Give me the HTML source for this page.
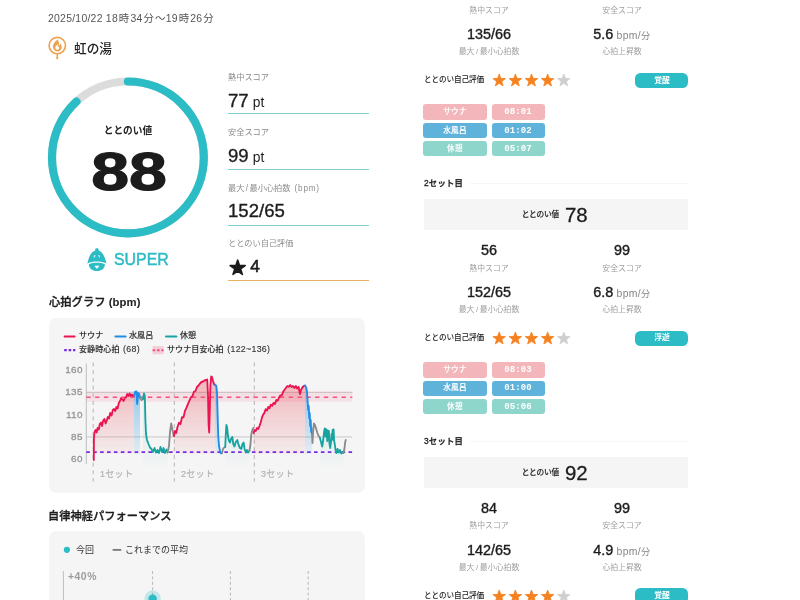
<!DOCTYPE html>
<html lang="ja"><head><meta charset="utf-8"><title>サウナ結果</title>
<style>
html,body{margin:0;padding:0;background:#fff;}
body{width:800px;height:600px;position:relative;overflow:hidden;font-family:'Liberation Sans', 'Noto Sans CJK JP', sans-serif;}
.t{position:absolute;white-space:nowrap;line-height:1;will-change:transform;}
.b{position:absolute;}
.pt{font-size:13.8px;letter-spacing:0.2px;-webkit-text-stroke:0;}
.st{font-size:18.4px;-webkit-text-stroke:0;}
.u{font-size:10.4px;color:#858585;-webkit-text-stroke:0;letter-spacing:0.35px;}
.u i{font-style:normal;font-size:9.2px;}
</style></head><body>
<div class="t" style="left:48px;top:18.6px;font-size:10.4px;color:#555;font-weight:400;transform:translate(0,-50%);letter-spacing:0.27px;">2025/10/22 18<span style="margin:0 0.9px">時</span>34<span style="margin:0 0.9px">分</span>～19<span style="margin:0 0.9px">時</span>26<span style="margin:0 0.9px">分</span></div>
<svg class="b" style="left:46px;top:35px" width="24" height="26" viewBox="0 0 24 26">
<circle cx="11.3" cy="10.6" r="8.2" fill="#fff" stroke="#efa04c" stroke-width="1.6"/>
<path d="M11.3 18.8 L11.3 22.4" stroke="#efa04c" stroke-width="1.5" stroke-linecap="round"/>
<circle cx="11.3" cy="23.2" r="1.1" fill="#efa04c"/>
<path d="M11.7 4.6 C9.2 6.6 6.9 8.8 6.9 11.8 C6.9 14.5 8.9 16.4 11.3 16.4 C13.8 16.4 15.7 14.6 15.7 12.2 C15.7 10.7 15 9.5 14.2 8.6 C14 9.8 13.5 10.5 12.8 10.9 C13.2 8.7 12.8 6.4 11.7 4.6 Z" fill="#efa04c"/>
<path d="M11.4 9.6 C10.2 10.6 9.3 11.6 9.3 12.8 C9.3 14 10.2 14.8 11.3 14.8 C12.4 14.8 13.3 14 13.3 12.9 C13.3 12.3 13 11.8 12.7 11.4 C12.5 11.9 12.2 12.2 11.9 12.3 C12 11.3 11.9 10.4 11.4 9.6 Z" fill="#fff"/>
</svg>
<div class="t" style="left:73.6px;top:48.7px;font-size:12.7px;color:#222;font-weight:500;transform:translate(0,-50%);">虹の湯</div>
<svg class="b" style="left:0;top:0" width="400" height="300" viewBox="0 0 400 300">
<circle cx="127.9" cy="157.4" r="75.9" fill="none" stroke="#dcdcdc" stroke-width="8.2"/>
<circle cx="127.9" cy="157.4" r="75.9" fill="none" stroke="#2bbcc6" stroke-width="8.2" stroke-linecap="round"
 stroke-dasharray="419.67 476.89" transform="rotate(-90 127.9 157.4)"/>
</svg>
<div class="t" style="left:128.3px;top:130.6px;font-size:9.7px;color:#222;font-weight:700;transform:translate(-50%,-50%);">ととのい値</div>
<div class="t" style="left:128.8px;top:170.8px;font-size:54px;color:#1c1c1c;font-weight:700;transform:translate(-50%,-50%);transform:translate(-50%,-50%) scaleX(1.26);-webkit-text-stroke:1.2px #1c1c1c;letter-spacing:0px;">88</div>
<svg class="b" style="left:86px;top:247px" width="22" height="25" viewBox="0 0 22 25">
<g fill="#2bbcc6">
<rect x="9.2" y="1.2" width="3.4" height="3.4" rx="1.3"/>
<path d="M10.9 3.2 C14.4 3.2 17.6 6.8 19 11.2 C19.8 13.6 20.2 15.2 20.4 16.6 C17.4 15.2 14.4 14.6 10.9 14.6 C7.4 14.6 4.4 15.2 1.4 16.6 C1.6 15.2 2 13.6 2.8 11.2 C4.2 6.8 7.4 3.2 10.9 3.2 Z"/>
<path d="M2.9 17.2 C5.4 16.2 8 15.8 10.9 15.8 C13.8 15.8 16.4 16.2 18.9 17.2 C19 21.4 15.4 24 10.9 24 C6.4 24 2.8 21.4 2.9 17.2 Z"/>
</g>
<path d="M7.6 9.2 C8.2 8 9 7.6 9.6 8.2 C9.4 9.4 8.8 10.4 7.8 10.8 Z" fill="#fff" fill-opacity="0.75"/>
<path d="M14.2 9.2 C13.6 8 12.8 7.6 12.2 8.2 C12.4 9.4 13 10.4 14 10.8 Z" fill="#fff" fill-opacity="0.75"/>
<path d="M8.8 19 L13 19 L10.9 21.6 Z" fill="#fff" stroke="#fff" stroke-width="0.6" stroke-linejoin="round"/>
</svg>
<div class="t" style="left:113.9px;top:259.4px;font-size:15.9px;color:#2bbcc6;font-weight:400;transform:translate(0,-50%);transform:translate(0,-50%) scaleY(1.09);-webkit-text-stroke:0.45px #2bbcc6;">SUPER</div>
<div class="t" style="left:228px;top:77.8px;font-size:8.2px;color:#8c8c8c;font-weight:400;transform:translate(0,-50%);">熱中スコア</div>
<div class="t" style="left:228px;top:100.6px;font-size:18.6px;color:#1c1c1c;font-weight:400;transform:translate(0,-50%);-webkit-text-stroke:0.35px #1c1c1c;">77<span class="pt"> pt</span></div>
<div class="b" style="left:228px;top:113.2px;width:141.00px;height:1.20px;background:#7fd0d4;border-radius:0px;"></div>
<div class="t" style="left:228px;top:133.2px;font-size:8.2px;color:#8c8c8c;font-weight:400;transform:translate(0,-50%);">安全スコア</div>
<div class="t" style="left:228px;top:155.6px;font-size:18.6px;color:#1c1c1c;font-weight:400;transform:translate(0,-50%);-webkit-text-stroke:0.35px #1c1c1c;">99<span class="pt"> pt</span></div>
<div class="b" style="left:228px;top:168.70000000000002px;width:141.00px;height:1.20px;background:#7fd0d4;border-radius:0px;"></div>
<div class="t" style="left:228px;top:188.6px;font-size:8.2px;color:#8c8c8c;font-weight:400;transform:translate(0,-50%);">最大<span style="margin:0 1.4px">/</span>最小心拍数<span style="letter-spacing:0.75px;margin-left:1.2px"> (bpm)</span></div>
<div class="t" style="left:228px;top:211.0px;font-size:18.6px;color:#1c1c1c;font-weight:400;transform:translate(0,-50%);-webkit-text-stroke:0.35px #1c1c1c;">152/65</div>
<div class="b" style="left:228px;top:224.6px;width:141.00px;height:1.20px;background:#7fd0d4;border-radius:0px;"></div>
<div class="t" style="left:228px;top:243.8px;font-size:8.2px;color:#8c8c8c;font-weight:400;transform:translate(0,-50%);">ととのい自己評価</div>
<div class="t" style="left:228px;top:266.6px;font-size:17.2px;color:#1c1c1c;font-weight:400;transform:translate(0,-50%);-webkit-text-stroke:0.6px #1c1c1c;"><span style="margin-left:22.2px">4</span></div>
<div class="b" style="left:228px;top:279.59999999999997px;width:141.00px;height:1.20px;background:#ebb265;border-radius:0px;"></div>
<svg class="b" style="left:226px;top:254px" width="24" height="24" viewBox="0 0 24 24"><text x="11.7" y="18.6" text-anchor="middle" font-size="16.4" fill="#1c1c1c" stroke="#1c1c1c" stroke-width="1.5" stroke-linejoin="round" style="font-family:'Liberation Sans','Noto Sans CJK JP',sans-serif">★</text></svg>
<div class="t" style="left:48.5px;top:303.2px;font-size:11.3px;color:#1c1c1c;font-weight:500;transform:translate(0,-50%);-webkit-text-stroke:0.32px #1c1c1c;">心拍グラフ<span style="letter-spacing:0.1px;font-weight:700;-webkit-text-stroke:0"> (bpm)</span></div>
<div class="b" style="left:49px;top:318px;width:316.00px;height:174.50px;background:#f5f5f5;border-radius:7px;"></div>
<svg class="b" style="left:0;top:0" width="400" height="600" viewBox="0 0 400 600">
<defs>
<linearGradient id="gs" gradientUnits="userSpaceOnUse" x1="0" y1="376" x2="0" y2="456"><stop offset="0" stop-color="#e8404f" stop-opacity="0.36"/><stop offset="1" stop-color="#e8404f" stop-opacity="0.04"/></linearGradient>
<linearGradient id="gw" gradientUnits="userSpaceOnUse" x1="0" y1="385" x2="0" y2="456"><stop offset="0" stop-color="#3aa0e0" stop-opacity="0.55"/><stop offset="1" stop-color="#3aa0e0" stop-opacity="0.08"/></linearGradient>
<linearGradient id="gr" gradientUnits="userSpaceOnUse" x1="0" y1="420" x2="0" y2="470"><stop offset="0" stop-color="#17a3a0" stop-opacity="0.10"/><stop offset="1" stop-color="#17a3a0" stop-opacity="0"/></linearGradient>
</defs>
<rect x="86.3" y="391.3" width="266" height="10.4" fill="#f6a6b8" fill-opacity="0.26"/>
<line x1="86.3" x2="352.3" y1="392.45" y2="392.45" stroke="#b4b4b4" stroke-width="0.7"/>
<line x1="86.3" x2="352.3" y1="436.95" y2="436.95" stroke="#b4b4b4" stroke-width="0.7"/>
<line x1="93.2" x2="93.2" y1="362.5" y2="481.5" stroke="#a8a8a8" stroke-width="0.85" stroke-dasharray="4 3.7"/>
<line x1="174.3" x2="174.3" y1="362.5" y2="481.5" stroke="#a8a8a8" stroke-width="0.85" stroke-dasharray="4 3.7"/>
<line x1="254.3" x2="254.3" y1="362.5" y2="481.5" stroke="#a8a8a8" stroke-width="0.85" stroke-dasharray="4 3.7"/>
<line x1="86.3" x2="86.3" y1="363.5" y2="464" stroke="#b0b0b0" stroke-width="0.8"/>
<path d="M93.8 460.0 L93.9 438.0 L94.6 432.0 L95.6 430.0 L96.6 432.5 L97.6 428.0 L98.8 429.5 L99.8 424.0 L101.0 422.5 L102.0 426.0 L103.2 420.5 L104.4 419.0 L105.6 423.5 L106.6 421.0 L107.8 417.0 L109.0 418.5 L110.2 413.0 L111.6 415.5 L112.8 410.0 L114.0 409.0 L115.2 411.0 L116.4 407.0 L117.6 408.5 L118.8 403.0 L120.0 401.0 L121.2 398.0 L122.4 399.5 L123.6 401.0 L124.8 398.0 L126.0 397.5 L127.2 394.0 L128.4 396.0 L129.6 393.5 L130.8 396.0 L132.0 394.5 L133.0 396.0 L134.0 395.5 L134.0 454.0 L93.8 454.0 Z" fill="url(#gs)"/>
<path d="M134.0 396.0 L135.0 392.0 L136.5 391.5 L137.2 404.0 L138.0 393.0 L139.2 394.0 L140.0 398.0 L140.0 454.0 L134.0 454.0 Z" fill="url(#gw)"/>
<path d="M143.0 399.0 L144.0 393.5 L144.8 396.0 L145.4 420.0 L146.0 434.0 L147.0 440.0 L148.5 444.0 L150.0 447.5 L151.5 449.0 L153.0 452.0 L154.5 448.0 L156.0 452.5 L157.5 450.0 L159.0 453.0 L160.5 447.0 L162.0 452.0 L163.5 448.0 L165.0 453.0 L166.5 449.5 L167.6 452.5 L167.6 470 L143.0 470 Z" fill="url(#gr)"/>
<path d="M174.0 436.0 L175.0 431.0 L176.2 433.0 L177.5 427.0 L179.0 422.6 L180.5 424.0 L182.0 417.2 L183.5 417.4 L185.0 410.8 L186.5 407.6 L188.0 403.8 L189.5 400.4 L191.0 397.2 L192.5 396.0 L194.0 391.6 L195.5 391.0 L197.0 387.0 L198.5 385.5 L200.0 383.5 L201.5 382.0 L203.0 381.5 L204.5 380.5 L206.0 380.0 L207.2 379.5 L208.0 395.0 L208.6 425.0 L209.2 432.5 L209.8 410.0 L210.4 385.0 L211.2 376.5 L212.0 377.0 L213.0 381.0 L214.0 384.0 L215.0 385.0 L215.0 454.0 L174.0 454.0 Z" fill="url(#gs)"/>
<path d="M215.0 385.0 L216.2 385.5 L217.0 392.0 L217.6 415.0 L218.2 435.0 L219.0 446.0 L220.0 451.0 L221.0 453.5 L222.0 453.0 L222.0 454.0 L215.0 454.0 Z" fill="url(#gw)"/>
<path d="M225.2 447.0 L225.8 435.0 L226.4 425.0 L227.2 428.0 L228.0 436.0 L229.0 441.0 L230.0 442.5 L231.0 439.0 L232.3 437.0 L233.3 444.0 L234.5 446.5 L235.8 442.0 L237.3 440.0 L238.6 445.0 L240.0 448.0 L241.3 449.0 L242.5 444.0 L243.6 442.5 L244.6 449.0 L245.8 452.5 L247.0 450.0 L248.2 452.5 L249.4 451.0 L249.4 470 L225.2 470 Z" fill="url(#gr)"/>
<path d="M253.6 433.0 L254.6 430.0 L255.8 431.0 L257.0 428.0 L258.3 429.0 L259.6 425.6 L260.8 422.2 L262.0 417.4 L263.2 414.6 L264.4 412.9 L265.6 409.3 L267.0 410.6 L268.2 407.0 L269.5 408.3 L270.8 404.6 L272.2 405.8 L273.5 402.9 L275.0 404.0 L276.3 400.0 L277.6 400.8 L279.0 397.6 L280.4 395.3 L281.8 395.5 L283.2 391.6 L284.6 389.7 L286.0 387.8 L287.4 386.0 L288.8 386.8 L290.2 385.1 L291.6 387.0 L293.0 386.0 L294.4 388.0 L295.8 386.0 L297.2 388.5 L298.6 387.0 L300.0 394.0 L301.0 390.0 L302.4 387.5 L303.8 386.0 L305.0 385.5 L305.0 454.0 L253.6 454.0 Z" fill="url(#gs)"/>
<path d="M305.0 385.5 L306.2 387.5 L307.0 392.0 L307.6 401.0 L308.2 410.0 L308.7 406.0 L309.2 418.0 L309.7 413.0 L310.2 426.0 L310.7 420.0 L311.2 432.0 L311.6 428.0 L312.0 434.0 L312.0 454.0 L305.0 454.0 Z" fill="url(#gw)"/>
<path d="M320.0 438.0 L321.0 442.0 L322.2 446.5 L323.2 440.0 L324.2 431.0 L324.8 428.5 L325.3 436.0 L325.8 429.0 L326.3 437.0 L326.8 430.0 L327.3 441.0 L327.8 430.5 L328.4 436.0 L328.9 431.0 L329.4 443.0 L330.2 448.0 L331.0 442.0 L331.6 434.0 L332.1 440.0 L332.6 430.0 L333.1 438.0 L333.6 429.5 L334.1 441.0 L334.6 443.0 L335.4 449.0 L336.4 453.0 L337.6 449.0 L338.8 452.5 L340.0 450.0 L341.2 453.5 L342.4 452.0 L343.4 453.0 L343.4 470 L320.0 470 Z" fill="url(#gr)"/>
<line x1="86.3" x2="352.3" y1="397.26" y2="397.26" stroke="#f0547f" stroke-width="1.45" stroke-dasharray="4.4 4.4"/>
<line x1="86.3" x2="352.3" y1="452.08" y2="452.08" stroke="#7a2be2" stroke-width="1.7" stroke-dasharray="3.6 3.3"/>
<path d="M93.8 460.0 L93.9 438.0 L94.6 432.0 L95.6 430.0 L96.6 432.5 L97.6 428.0 L98.8 429.5 L99.8 424.0 L101.0 422.5 L102.0 426.0 L103.2 420.5 L104.4 419.0 L105.6 423.5 L106.6 421.0 L107.8 417.0 L109.0 418.5 L110.2 413.0 L111.6 415.5 L112.8 410.0 L114.0 409.0 L115.2 411.0 L116.4 407.0 L117.6 408.5 L118.8 403.0 L120.0 401.0 L121.2 398.0 L122.4 399.5 L123.6 401.0 L124.8 398.0 L126.0 397.5 L127.2 394.0 L128.4 396.0 L129.6 393.5 L130.8 396.0 L132.0 394.5 L133.0 396.0 L134.0 395.5" fill="none" stroke="#ec1450" stroke-width="1.85" stroke-linejoin="round" stroke-linecap="round"/>
<path d="M134.0 396.0 L135.0 392.0 L136.5 391.5 L137.2 404.0 L138.0 393.0 L139.2 394.0 L140.0 398.0" fill="none" stroke="#1e8de6" stroke-width="1.85" stroke-linejoin="round" stroke-linecap="round"/>
<path d="M140.0 398.0 L141.5 400.0 L143.0 399.0" fill="none" stroke="#8a8a8a" stroke-width="1.85" stroke-linejoin="round" stroke-linecap="round"/>
<path d="M143.0 399.0 L144.0 393.5 L144.8 396.0 L145.4 420.0 L146.0 434.0 L147.0 440.0 L148.5 444.0 L150.0 447.5 L151.5 449.0 L153.0 452.0 L154.5 448.0 L156.0 452.5 L157.5 450.0 L159.0 453.0 L160.5 447.0 L162.0 452.0 L163.5 448.0 L165.0 453.0 L166.5 449.5 L167.6 452.5" fill="none" stroke="#17a3a0" stroke-width="1.85" stroke-linejoin="round" stroke-linecap="round"/>
<path d="M167.6 452.5 L169.0 446.0 L170.0 432.0 L171.2 423.5 L172.5 430.0 L173.8 436.0" fill="none" stroke="#8a8a8a" stroke-width="1.85" stroke-linejoin="round" stroke-linecap="round"/>
<path d="M174.0 436.0 L175.0 431.0 L176.2 433.0 L177.5 427.0 L179.0 422.6 L180.5 424.0 L182.0 417.2 L183.5 417.4 L185.0 410.8 L186.5 407.6 L188.0 403.8 L189.5 400.4 L191.0 397.2 L192.5 396.0 L194.0 391.6 L195.5 391.0 L197.0 387.0 L198.5 385.5 L200.0 383.5 L201.5 382.0 L203.0 381.5 L204.5 380.5 L206.0 380.0 L207.2 379.5 L208.0 395.0 L208.6 425.0 L209.2 432.5 L209.8 410.0 L210.4 385.0 L211.2 376.5 L212.0 377.0 L213.0 381.0 L214.0 384.0 L215.0 385.0" fill="none" stroke="#ec1450" stroke-width="1.85" stroke-linejoin="round" stroke-linecap="round"/>
<path d="M215.0 385.0 L216.2 385.5 L217.0 392.0 L217.6 415.0 L218.2 435.0 L219.0 446.0 L220.0 451.0 L221.0 453.5 L222.0 453.0" fill="none" stroke="#1e8de6" stroke-width="1.85" stroke-linejoin="round" stroke-linecap="round"/>
<path d="M222.0 453.0 L223.0 449.0 L224.2 447.5 L225.2 447.0" fill="none" stroke="#8a8a8a" stroke-width="1.85" stroke-linejoin="round" stroke-linecap="round"/>
<path d="M225.2 447.0 L225.8 435.0 L226.4 425.0 L227.2 428.0 L228.0 436.0 L229.0 441.0 L230.0 442.5 L231.0 439.0 L232.3 437.0 L233.3 444.0 L234.5 446.5 L235.8 442.0 L237.3 440.0 L238.6 445.0 L240.0 448.0 L241.3 449.0 L242.5 444.0 L243.6 442.5 L244.6 449.0 L245.8 452.5 L247.0 450.0 L248.2 452.5 L249.4 451.0" fill="none" stroke="#17a3a0" stroke-width="1.85" stroke-linejoin="round" stroke-linecap="round"/>
<path d="M249.4 451.0 L250.4 445.0 L251.2 435.0 L252.2 430.5 L253.4 428.0" fill="none" stroke="#8a8a8a" stroke-width="1.85" stroke-linejoin="round" stroke-linecap="round"/>
<path d="M253.6 433.0 L254.6 430.0 L255.8 431.0 L257.0 428.0 L258.3 429.0 L259.6 425.6 L260.8 422.2 L262.0 417.4 L263.2 414.6 L264.4 412.9 L265.6 409.3 L267.0 410.6 L268.2 407.0 L269.5 408.3 L270.8 404.6 L272.2 405.8 L273.5 402.9 L275.0 404.0 L276.3 400.0 L277.6 400.8 L279.0 397.6 L280.4 395.3 L281.8 395.5 L283.2 391.6 L284.6 389.7 L286.0 387.8 L287.4 386.0 L288.8 386.8 L290.2 385.1 L291.6 387.0 L293.0 386.0 L294.4 388.0 L295.8 386.0 L297.2 388.5 L298.6 387.0 L300.0 394.0 L301.0 390.0 L302.4 387.5 L303.8 386.0 L305.0 385.5" fill="none" stroke="#ec1450" stroke-width="1.85" stroke-linejoin="round" stroke-linecap="round"/>
<path d="M305.0 385.5 L306.2 387.5 L307.0 392.0 L307.6 401.0 L308.2 410.0 L308.7 406.0 L309.2 418.0 L309.7 413.0 L310.2 426.0 L310.7 420.0 L311.2 432.0 L311.6 428.0 L312.0 434.0" fill="none" stroke="#1e8de6" stroke-width="1.85" stroke-linejoin="round" stroke-linecap="round"/>
<path d="M312.0 434.0 L312.5 443.0 L313.1 432.0 L313.9 423.5 L315.0 425.0 L316.2 429.0 L317.4 433.0 L318.6 436.0 L320.0 438.0" fill="none" stroke="#8a8a8a" stroke-width="1.85" stroke-linejoin="round" stroke-linecap="round"/>
<path d="M320.0 438.0 L321.0 442.0 L322.2 446.5 L323.2 440.0 L324.2 431.0 L324.8 428.5 L325.3 436.0 L325.8 429.0 L326.3 437.0 L326.8 430.0 L327.3 441.0 L327.8 430.5 L328.4 436.0 L328.9 431.0 L329.4 443.0 L330.2 448.0 L331.0 442.0 L331.6 434.0 L332.1 440.0 L332.6 430.0 L333.1 438.0 L333.6 429.5 L334.1 441.0 L334.6 443.0 L335.4 449.0 L336.4 453.0 L337.6 449.0 L338.8 452.5 L340.0 450.0 L341.2 453.5 L342.4 452.0 L343.4 453.0" fill="none" stroke="#17a3a0" stroke-width="1.85" stroke-linejoin="round" stroke-linecap="round"/>
<path d="M343.4 453.0 L344.4 449.0 L345.2 442.0 L345.8 440.0" fill="none" stroke="#8a8a8a" stroke-width="1.85" stroke-linejoin="round" stroke-linecap="round"/>
<line x1="64.6" x2="74.6" y1="336.4" y2="336.4" stroke="#ec1450" stroke-width="2" stroke-linecap="round"/>
<line x1="115.4" x2="125.6" y1="336.4" y2="336.4" stroke="#1e8de6" stroke-width="2" stroke-linecap="round"/>
<line x1="166" x2="176.4" y1="336.4" y2="336.4" stroke="#17a3a0" stroke-width="2" stroke-linecap="round"/>
<line x1="64.2" x2="75.4" y1="350.2" y2="350.2" stroke="#7a2be2" stroke-width="2.2" stroke-dasharray="2.6 1.8"/>
<rect x="152.6" y="346.2" width="11" height="8" fill="#f6a6b8" fill-opacity="0.5"/>
<line x1="152.6" x2="163.6" y1="350.2" y2="350.2" stroke="#f0547f" stroke-width="2" stroke-dasharray="2.6 1.8"/>
</svg>
<div class="t" style="left:78.6px;top:336.4px;font-size:8.1px;color:#333;font-weight:500;transform:translate(0,-50%);-webkit-text-stroke:0.12px #333;">サウナ</div>
<div class="t" style="left:128.8px;top:336.4px;font-size:8.1px;color:#333;font-weight:500;transform:translate(0,-50%);-webkit-text-stroke:0.12px #333;">水風呂</div>
<div class="t" style="left:180.4px;top:336.4px;font-size:8.1px;color:#333;font-weight:500;transform:translate(0,-50%);-webkit-text-stroke:0.12px #333;">休憩</div>
<div class="t" style="left:78.6px;top:350.2px;font-size:8.1px;color:#333;font-weight:500;transform:translate(0,-50%);-webkit-text-stroke:0.12px #333;">安静時心拍<span style="font-size:8.8px;letter-spacing:0.3px;margin-left:0.8px"> (68)</span></div>
<div class="t" style="left:167.4px;top:350.2px;font-size:8.1px;color:#333;font-weight:500;transform:translate(0,-50%);-webkit-text-stroke:0.12px #333;">サウナ目安心拍<span style="font-size:8.8px;letter-spacing:0.3px;margin-left:0.8px"> (122~136)</span></div>
<div class="t" style="left:82.8px;top:370.0px;font-size:9.9px;color:#949494;font-weight:400;transform:translate(-100%,-50%);-webkit-text-stroke:0.32px #949494;letter-spacing:0.45px;">160</div>
<div class="t" style="left:82.8px;top:392.25px;font-size:9.9px;color:#949494;font-weight:400;transform:translate(-100%,-50%);-webkit-text-stroke:0.32px #949494;letter-spacing:0.45px;">135</div>
<div class="t" style="left:82.8px;top:414.5px;font-size:9.9px;color:#949494;font-weight:400;transform:translate(-100%,-50%);-webkit-text-stroke:0.32px #949494;letter-spacing:0.45px;">110</div>
<div class="t" style="left:82.8px;top:436.75px;font-size:9.9px;color:#949494;font-weight:400;transform:translate(-100%,-50%);-webkit-text-stroke:0.32px #949494;letter-spacing:0.45px;">85</div>
<div class="t" style="left:82.8px;top:459.0px;font-size:9.9px;color:#949494;font-weight:400;transform:translate(-100%,-50%);-webkit-text-stroke:0.32px #949494;letter-spacing:0.45px;">60</div>
<div class="t" style="left:100px;top:474.2px;font-size:9.0px;color:#b2b2b2;font-weight:400;transform:translate(0,-50%);-webkit-text-stroke:0.2px #b2b2b2;letter-spacing:0.3px;">1セット</div>
<div class="t" style="left:181px;top:474.2px;font-size:9.0px;color:#b2b2b2;font-weight:400;transform:translate(0,-50%);-webkit-text-stroke:0.2px #b2b2b2;letter-spacing:0.3px;">2セット</div>
<div class="t" style="left:261px;top:474.2px;font-size:9.0px;color:#b2b2b2;font-weight:400;transform:translate(0,-50%);-webkit-text-stroke:0.2px #b2b2b2;letter-spacing:0.3px;">3セット</div>
<div class="t" style="left:48.3px;top:517.0px;font-size:11.25px;color:#1c1c1c;font-weight:500;transform:translate(0,-50%);-webkit-text-stroke:0.32px #1c1c1c;">自律神経パフォーマンス</div>
<div class="b" style="left:49px;top:531.4px;width:316.00px;height:88.60px;background:#f5f5f5;border-radius:7px;"></div>
<svg class="b" style="left:0;top:530px" width="400" height="70" viewBox="0 530 400 70">
<circle cx="66.9" cy="549.8" r="3.1" fill="#2bbcc6"/>
<line x1="112.6" x2="121.2" y1="549.9" y2="549.9" stroke="#7c7c7c" stroke-width="1.9"/>
<line x1="63.4" x2="63.4" y1="571" y2="600" stroke="#b0b0b0" stroke-width="0.8"/>
<line x1="152.6" x2="152.6" y1="571" y2="600" stroke="#a8a8a8" stroke-width="0.8" stroke-dasharray="3 2.4"/>
<line x1="230.4" x2="230.4" y1="571" y2="600" stroke="#a8a8a8" stroke-width="0.8" stroke-dasharray="3 2.4"/>
<line x1="308.2" x2="308.2" y1="571" y2="600" stroke="#a8a8a8" stroke-width="0.8" stroke-dasharray="3 2.4"/>
<circle cx="152.6" cy="598.6" r="8.2" fill="#2bbcc6" fill-opacity="0.25"/>
<circle cx="152.6" cy="598.6" r="4.2" fill="#2bbcc6"/>
</svg>
<div class="t" style="left:76.4px;top:549.8px;font-size:9.0px;color:#333;font-weight:400;transform:translate(0,-50%);">今回</div>
<div class="t" style="left:124.8px;top:549.8px;font-size:9.0px;color:#333;font-weight:400;transform:translate(0,-50%);">これまでの平均</div>
<div class="t" style="left:67.8px;top:577.4px;font-size:10.4px;color:#9c9c9c;font-weight:700;transform:translate(0,-50%);letter-spacing:0.5px;">+40%</div>
<div class="t" style="left:423.6px;top:-74.5px;font-size:8.4px;color:#222;font-weight:500;transform:translate(0,-50%);letter-spacing:0.2px;-webkit-text-stroke:0.3px #222;">1セット目</div>
<div class="b" style="left:470px;top:-74.9px;width:218.00px;height:0.80px;background:#f7f7f7;border-radius:0px;"></div>
<div class="b" style="left:423.5px;top:-58.4px;width:264.50px;height:30.90px;background:#f5f5f5;border-radius:0px;"></div>
<div class="t" style="left:559.4px;top:-42.5px;font-size:7.7px;color:#222;font-weight:500;transform:translate(-100%,-50%);letter-spacing:-0.2px;-webkit-text-stroke:0.12px #222;">ととのい値</div>
<div class="t" style="left:565.0px;top:-43.1px;font-size:20.4px;color:#1c1c1c;font-weight:400;transform:translate(0,-50%);-webkit-text-stroke:0.3px #1c1c1c;">80</div>
<div class="t" style="left:489px;top:-7.599999999999994px;font-size:14.4px;color:#1c1c1c;font-weight:400;transform:translate(-50%,-50%);-webkit-text-stroke:0.38px #1c1c1c;">72</div>
<div class="t" style="left:621.5px;top:-7.599999999999994px;font-size:14.4px;color:#1c1c1c;font-weight:400;transform:translate(-50%,-50%);-webkit-text-stroke:0.38px #1c1c1c;">99</div>
<div class="t" style="left:489px;top:10.700000000000003px;font-size:7.9px;color:#a0a0a0;font-weight:400;transform:translate(-50%,-50%);">熱中スコア</div>
<div class="t" style="left:621.5px;top:10.700000000000003px;font-size:7.9px;color:#a0a0a0;font-weight:400;transform:translate(-50%,-50%);">安全スコア</div>
<div class="t" style="left:489px;top:34.400000000000006px;font-size:14.4px;color:#1c1c1c;font-weight:400;transform:translate(-50%,-50%);-webkit-text-stroke:0.38px #1c1c1c;">135/66</div>
<div class="t" style="left:621.5px;top:34.400000000000006px;font-size:14.4px;color:#1c1c1c;font-weight:400;transform:translate(-50%,-50%);"><span style="-webkit-text-stroke:0.38px #1c1c1c;">5.6</span><span class="u"> bpm/<i>分</i></span></div>
<div class="t" style="left:489px;top:52.400000000000006px;font-size:7.9px;color:#a0a0a0;font-weight:400;transform:translate(-50%,-50%);">最大<span style="margin:0 1.6px">/</span>最小心拍数</div>
<div class="t" style="left:621.5px;top:52.400000000000006px;font-size:7.9px;color:#a0a0a0;font-weight:400;transform:translate(-50%,-50%);">心拍上昇数</div>
<div class="t" style="left:423.6px;top:80.4px;font-size:7.6px;color:#222;font-weight:500;transform:translate(0,-50%);letter-spacing:-0.1px;">ととのい自己評価</div>
<svg class="b" style="left:490px;top:70.40px" width="84" height="20" viewBox="490 70.40 84 20"><polygon points="499.20,74.40 500.83,78.76 505.48,78.96 501.84,81.86 503.08,86.34 499.20,83.77 495.32,86.34 496.56,81.86 492.92,78.96 497.57,78.76" fill="#f5821f" stroke="#f5821f" stroke-width="0.8" stroke-linejoin="round"/><polygon points="515.35,74.40 516.98,78.76 521.63,78.96 517.99,81.86 519.23,86.34 515.35,83.77 511.47,86.34 512.71,81.86 509.07,78.96 513.72,78.76" fill="#f5821f" stroke="#f5821f" stroke-width="0.8" stroke-linejoin="round"/><polygon points="531.50,74.40 533.13,78.76 537.78,78.96 534.14,81.86 535.38,86.34 531.50,83.77 527.62,86.34 528.86,81.86 525.22,78.96 529.87,78.76" fill="#f5821f" stroke="#f5821f" stroke-width="0.8" stroke-linejoin="round"/><polygon points="547.65,74.40 549.28,78.76 553.93,78.96 550.29,81.86 551.53,86.34 547.65,83.77 543.77,86.34 545.01,81.86 541.37,78.96 546.02,78.76" fill="#f5821f" stroke="#f5821f" stroke-width="0.8" stroke-linejoin="round"/><polygon points="563.80,74.40 565.43,78.76 570.08,78.96 566.44,81.86 567.68,86.34 563.80,83.77 559.92,86.34 561.16,81.86 557.52,78.96 562.17,78.76" fill="#cfcfcf" stroke="#cfcfcf" stroke-width="0.8" stroke-linejoin="round"/></svg>
<div class="b" style="left:635px;top:72.80000000000001px;width:53.00px;height:15.40px;background:#2bbcc6;border-radius:5.5px;"></div>
<div class="t" style="left:661.5px;top:80.60000000000001px;font-size:7.8px;color:#fff;font-weight:700;transform:translate(-50%,-50%);">覚醒</div>
<div class="b" style="left:423px;top:104.4px;width:63.50px;height:15.40px;background:#f3b6ba;border-radius:3px;"></div>
<div class="b" style="left:491.8px;top:104.4px;width:53.20px;height:15.40px;background:#f3b6ba;border-radius:3px;"></div>
<div class="t" style="left:454.8px;top:112.2px;font-size:7.6px;color:#fff;font-weight:500;transform:translate(-50%,-50%);letter-spacing:0.3px;-webkit-text-stroke:0.15px #fff;">サウナ</div>
<div class="t" style="left:518.4px;top:112.30000000000001px;font-size:9.0px;color:#fff;font-weight:700;transform:translate(-50%,-50%);font-family:'Liberation Mono', 'Noto Sans CJK JP', monospace;letter-spacing:0.1px;">08:01</div>
<div class="b" style="left:423px;top:122.75px;width:63.50px;height:15.40px;background:#5fb2d9;border-radius:3px;"></div>
<div class="b" style="left:491.8px;top:122.75px;width:53.20px;height:15.40px;background:#5fb2d9;border-radius:3px;"></div>
<div class="t" style="left:454.8px;top:130.55px;font-size:7.6px;color:#fff;font-weight:500;transform:translate(-50%,-50%);letter-spacing:0.3px;-webkit-text-stroke:0.15px #fff;">水風呂</div>
<div class="t" style="left:518.4px;top:130.65px;font-size:9.0px;color:#fff;font-weight:700;transform:translate(-50%,-50%);font-family:'Liberation Mono', 'Noto Sans CJK JP', monospace;letter-spacing:0.1px;">01:02</div>
<div class="b" style="left:423px;top:141.10000000000002px;width:63.50px;height:15.40px;background:#8ed6cc;border-radius:3px;"></div>
<div class="b" style="left:491.8px;top:141.10000000000002px;width:53.20px;height:15.40px;background:#8ed6cc;border-radius:3px;"></div>
<div class="t" style="left:454.8px;top:148.90000000000003px;font-size:7.6px;color:#fff;font-weight:500;transform:translate(-50%,-50%);letter-spacing:0.3px;-webkit-text-stroke:0.15px #fff;">休憩</div>
<div class="t" style="left:518.4px;top:149.00000000000003px;font-size:9.0px;color:#fff;font-weight:700;transform:translate(-50%,-50%);font-family:'Liberation Mono', 'Noto Sans CJK JP', monospace;letter-spacing:0.1px;">05:07</div>
<div class="t" style="left:423.6px;top:183.3px;font-size:8.4px;color:#222;font-weight:500;transform:translate(0,-50%);letter-spacing:0.2px;-webkit-text-stroke:0.3px #222;">2セット目</div>
<div class="b" style="left:470px;top:182.9px;width:218.00px;height:0.80px;background:#f7f7f7;border-radius:0px;"></div>
<div class="b" style="left:423.5px;top:199.4px;width:264.50px;height:30.90px;background:#f5f5f5;border-radius:0px;"></div>
<div class="t" style="left:559.4px;top:215.3px;font-size:7.7px;color:#222;font-weight:500;transform:translate(-100%,-50%);letter-spacing:-0.2px;-webkit-text-stroke:0.12px #222;">ととのい値</div>
<div class="t" style="left:565.0px;top:214.70000000000002px;font-size:20.4px;color:#1c1c1c;font-weight:400;transform:translate(0,-50%);-webkit-text-stroke:0.3px #1c1c1c;">78</div>
<div class="t" style="left:489px;top:250.20000000000002px;font-size:14.4px;color:#1c1c1c;font-weight:400;transform:translate(-50%,-50%);-webkit-text-stroke:0.38px #1c1c1c;">56</div>
<div class="t" style="left:621.5px;top:250.20000000000002px;font-size:14.4px;color:#1c1c1c;font-weight:400;transform:translate(-50%,-50%);-webkit-text-stroke:0.38px #1c1c1c;">99</div>
<div class="t" style="left:489px;top:268.5px;font-size:7.9px;color:#a0a0a0;font-weight:400;transform:translate(-50%,-50%);">熱中スコア</div>
<div class="t" style="left:621.5px;top:268.5px;font-size:7.9px;color:#a0a0a0;font-weight:400;transform:translate(-50%,-50%);">安全スコア</div>
<div class="t" style="left:489px;top:292.20000000000005px;font-size:14.4px;color:#1c1c1c;font-weight:400;transform:translate(-50%,-50%);-webkit-text-stroke:0.38px #1c1c1c;">152/65</div>
<div class="t" style="left:621.5px;top:292.20000000000005px;font-size:14.4px;color:#1c1c1c;font-weight:400;transform:translate(-50%,-50%);"><span style="-webkit-text-stroke:0.38px #1c1c1c;">6.8</span><span class="u"> bpm/<i>分</i></span></div>
<div class="t" style="left:489px;top:310.20000000000005px;font-size:7.9px;color:#a0a0a0;font-weight:400;transform:translate(-50%,-50%);">最大<span style="margin:0 1.6px">/</span>最小心拍数</div>
<div class="t" style="left:621.5px;top:310.20000000000005px;font-size:7.9px;color:#a0a0a0;font-weight:400;transform:translate(-50%,-50%);">心拍上昇数</div>
<div class="t" style="left:423.6px;top:338.20000000000005px;font-size:7.6px;color:#222;font-weight:500;transform:translate(0,-50%);letter-spacing:-0.1px;">ととのい自己評価</div>
<svg class="b" style="left:490px;top:328.20px" width="84" height="20" viewBox="490 328.20 84 20"><polygon points="499.20,332.20 500.83,336.56 505.48,336.76 501.84,339.66 503.08,344.14 499.20,341.57 495.32,344.14 496.56,339.66 492.92,336.76 497.57,336.56" fill="#f5821f" stroke="#f5821f" stroke-width="0.8" stroke-linejoin="round"/><polygon points="515.35,332.20 516.98,336.56 521.63,336.76 517.99,339.66 519.23,344.14 515.35,341.57 511.47,344.14 512.71,339.66 509.07,336.76 513.72,336.56" fill="#f5821f" stroke="#f5821f" stroke-width="0.8" stroke-linejoin="round"/><polygon points="531.50,332.20 533.13,336.56 537.78,336.76 534.14,339.66 535.38,344.14 531.50,341.57 527.62,344.14 528.86,339.66 525.22,336.76 529.87,336.56" fill="#f5821f" stroke="#f5821f" stroke-width="0.8" stroke-linejoin="round"/><polygon points="547.65,332.20 549.28,336.56 553.93,336.76 550.29,339.66 551.53,344.14 547.65,341.57 543.77,344.14 545.01,339.66 541.37,336.76 546.02,336.56" fill="#f5821f" stroke="#f5821f" stroke-width="0.8" stroke-linejoin="round"/><polygon points="563.80,332.20 565.43,336.56 570.08,336.76 566.44,339.66 567.68,344.14 563.80,341.57 559.92,344.14 561.16,339.66 557.52,336.76 562.17,336.56" fill="#cfcfcf" stroke="#cfcfcf" stroke-width="0.8" stroke-linejoin="round"/></svg>
<div class="b" style="left:635px;top:330.6px;width:53.00px;height:15.40px;background:#2bbcc6;border-radius:5.5px;"></div>
<div class="t" style="left:661.5px;top:338.40000000000003px;font-size:7.8px;color:#fff;font-weight:700;transform:translate(-50%,-50%);">浮遊</div>
<div class="b" style="left:423px;top:362.20000000000005px;width:63.50px;height:15.40px;background:#f3b6ba;border-radius:3px;"></div>
<div class="b" style="left:491.8px;top:362.20000000000005px;width:53.20px;height:15.40px;background:#f3b6ba;border-radius:3px;"></div>
<div class="t" style="left:454.8px;top:370.00000000000006px;font-size:7.6px;color:#fff;font-weight:500;transform:translate(-50%,-50%);letter-spacing:0.3px;-webkit-text-stroke:0.15px #fff;">サウナ</div>
<div class="t" style="left:518.4px;top:370.1px;font-size:9.0px;color:#fff;font-weight:700;transform:translate(-50%,-50%);font-family:'Liberation Mono', 'Noto Sans CJK JP', monospace;letter-spacing:0.1px;">08:03</div>
<div class="b" style="left:423px;top:380.55000000000007px;width:63.50px;height:15.40px;background:#5fb2d9;border-radius:3px;"></div>
<div class="b" style="left:491.8px;top:380.55000000000007px;width:53.20px;height:15.40px;background:#5fb2d9;border-radius:3px;"></div>
<div class="t" style="left:454.8px;top:388.3500000000001px;font-size:7.6px;color:#fff;font-weight:500;transform:translate(-50%,-50%);letter-spacing:0.3px;-webkit-text-stroke:0.15px #fff;">水風呂</div>
<div class="t" style="left:518.4px;top:388.45000000000005px;font-size:9.0px;color:#fff;font-weight:700;transform:translate(-50%,-50%);font-family:'Liberation Mono', 'Noto Sans CJK JP', monospace;letter-spacing:0.1px;">01:00</div>
<div class="b" style="left:423px;top:398.90000000000003px;width:63.50px;height:15.40px;background:#8ed6cc;border-radius:3px;"></div>
<div class="b" style="left:491.8px;top:398.90000000000003px;width:53.20px;height:15.40px;background:#8ed6cc;border-radius:3px;"></div>
<div class="t" style="left:454.8px;top:406.70000000000005px;font-size:7.6px;color:#fff;font-weight:500;transform:translate(-50%,-50%);letter-spacing:0.3px;-webkit-text-stroke:0.15px #fff;">休憩</div>
<div class="t" style="left:518.4px;top:406.8px;font-size:9.0px;color:#fff;font-weight:700;transform:translate(-50%,-50%);font-family:'Liberation Mono', 'Noto Sans CJK JP', monospace;letter-spacing:0.1px;">05:06</div>
<div class="t" style="left:423.6px;top:441.1px;font-size:8.4px;color:#222;font-weight:500;transform:translate(0,-50%);letter-spacing:0.2px;-webkit-text-stroke:0.3px #222;">3セット目</div>
<div class="b" style="left:470px;top:440.70000000000005px;width:218.00px;height:0.80px;background:#f7f7f7;border-radius:0px;"></div>
<div class="b" style="left:423.5px;top:457.20000000000005px;width:264.50px;height:30.90px;background:#f5f5f5;border-radius:0px;"></div>
<div class="t" style="left:559.4px;top:473.1px;font-size:7.7px;color:#222;font-weight:500;transform:translate(-100%,-50%);letter-spacing:-0.2px;-webkit-text-stroke:0.12px #222;">ととのい値</div>
<div class="t" style="left:565.0px;top:472.5px;font-size:20.4px;color:#1c1c1c;font-weight:400;transform:translate(0,-50%);-webkit-text-stroke:0.3px #1c1c1c;">92</div>
<div class="t" style="left:489px;top:508.0px;font-size:14.4px;color:#1c1c1c;font-weight:400;transform:translate(-50%,-50%);-webkit-text-stroke:0.38px #1c1c1c;">84</div>
<div class="t" style="left:621.5px;top:508.0px;font-size:14.4px;color:#1c1c1c;font-weight:400;transform:translate(-50%,-50%);-webkit-text-stroke:0.38px #1c1c1c;">99</div>
<div class="t" style="left:489px;top:526.3000000000001px;font-size:7.9px;color:#a0a0a0;font-weight:400;transform:translate(-50%,-50%);">熱中スコア</div>
<div class="t" style="left:621.5px;top:526.3000000000001px;font-size:7.9px;color:#a0a0a0;font-weight:400;transform:translate(-50%,-50%);">安全スコア</div>
<div class="t" style="left:489px;top:550.0px;font-size:14.4px;color:#1c1c1c;font-weight:400;transform:translate(-50%,-50%);-webkit-text-stroke:0.38px #1c1c1c;">142/65</div>
<div class="t" style="left:621.5px;top:550.0px;font-size:14.4px;color:#1c1c1c;font-weight:400;transform:translate(-50%,-50%);"><span style="-webkit-text-stroke:0.38px #1c1c1c;">4.9</span><span class="u"> bpm/<i>分</i></span></div>
<div class="t" style="left:489px;top:568.0px;font-size:7.9px;color:#a0a0a0;font-weight:400;transform:translate(-50%,-50%);">最大<span style="margin:0 1.6px">/</span>最小心拍数</div>
<div class="t" style="left:621.5px;top:568.0px;font-size:7.9px;color:#a0a0a0;font-weight:400;transform:translate(-50%,-50%);">心拍上昇数</div>
<div class="t" style="left:423.6px;top:596.0px;font-size:7.6px;color:#222;font-weight:500;transform:translate(0,-50%);letter-spacing:-0.1px;">ととのい自己評価</div>
<svg class="b" style="left:490px;top:586.00px" width="84" height="20" viewBox="490 586.00 84 20"><polygon points="499.20,590.00 500.83,594.36 505.48,594.56 501.84,597.46 503.08,601.94 499.20,599.37 495.32,601.94 496.56,597.46 492.92,594.56 497.57,594.36" fill="#f5821f" stroke="#f5821f" stroke-width="0.8" stroke-linejoin="round"/><polygon points="515.35,590.00 516.98,594.36 521.63,594.56 517.99,597.46 519.23,601.94 515.35,599.37 511.47,601.94 512.71,597.46 509.07,594.56 513.72,594.36" fill="#f5821f" stroke="#f5821f" stroke-width="0.8" stroke-linejoin="round"/><polygon points="531.50,590.00 533.13,594.36 537.78,594.56 534.14,597.46 535.38,601.94 531.50,599.37 527.62,601.94 528.86,597.46 525.22,594.56 529.87,594.36" fill="#f5821f" stroke="#f5821f" stroke-width="0.8" stroke-linejoin="round"/><polygon points="547.65,590.00 549.28,594.36 553.93,594.56 550.29,597.46 551.53,601.94 547.65,599.37 543.77,601.94 545.01,597.46 541.37,594.56 546.02,594.36" fill="#f5821f" stroke="#f5821f" stroke-width="0.8" stroke-linejoin="round"/><polygon points="563.80,590.00 565.43,594.36 570.08,594.56 566.44,597.46 567.68,601.94 563.80,599.37 559.92,601.94 561.16,597.46 557.52,594.56 562.17,594.36" fill="#cfcfcf" stroke="#cfcfcf" stroke-width="0.8" stroke-linejoin="round"/></svg>
<div class="b" style="left:635px;top:588.4px;width:53.00px;height:15.40px;background:#2bbcc6;border-radius:5.5px;"></div>
<div class="t" style="left:661.5px;top:596.2px;font-size:7.8px;color:#fff;font-weight:700;transform:translate(-50%,-50%);">覚醒</div>
<div class="b" style="left:423px;top:620.0px;width:63.50px;height:15.40px;background:#f3b6ba;border-radius:3px;"></div>
<div class="b" style="left:491.8px;top:620.0px;width:53.20px;height:15.40px;background:#f3b6ba;border-radius:3px;"></div>
<div class="t" style="left:454.8px;top:627.8px;font-size:7.6px;color:#fff;font-weight:500;transform:translate(-50%,-50%);letter-spacing:0.3px;-webkit-text-stroke:0.15px #fff;">サウナ</div>
<div class="t" style="left:518.4px;top:627.9px;font-size:9.0px;color:#fff;font-weight:700;transform:translate(-50%,-50%);font-family:'Liberation Mono', 'Noto Sans CJK JP', monospace;letter-spacing:0.1px;">08:02</div>
<div class="b" style="left:423px;top:638.35px;width:63.50px;height:15.40px;background:#5fb2d9;border-radius:3px;"></div>
<div class="b" style="left:491.8px;top:638.35px;width:53.20px;height:15.40px;background:#5fb2d9;border-radius:3px;"></div>
<div class="t" style="left:454.8px;top:646.15px;font-size:7.6px;color:#fff;font-weight:500;transform:translate(-50%,-50%);letter-spacing:0.3px;-webkit-text-stroke:0.15px #fff;">水風呂</div>
<div class="t" style="left:518.4px;top:646.25px;font-size:9.0px;color:#fff;font-weight:700;transform:translate(-50%,-50%);font-family:'Liberation Mono', 'Noto Sans CJK JP', monospace;letter-spacing:0.1px;">01:01</div>
<div class="b" style="left:423px;top:656.7px;width:63.50px;height:15.40px;background:#8ed6cc;border-radius:3px;"></div>
<div class="b" style="left:491.8px;top:656.7px;width:53.20px;height:15.40px;background:#8ed6cc;border-radius:3px;"></div>
<div class="t" style="left:454.8px;top:664.5px;font-size:7.6px;color:#fff;font-weight:500;transform:translate(-50%,-50%);letter-spacing:0.3px;-webkit-text-stroke:0.15px #fff;">休憩</div>
<div class="t" style="left:518.4px;top:664.6px;font-size:9.0px;color:#fff;font-weight:700;transform:translate(-50%,-50%);font-family:'Liberation Mono', 'Noto Sans CJK JP', monospace;letter-spacing:0.1px;">05:05</div>
</body></html>
